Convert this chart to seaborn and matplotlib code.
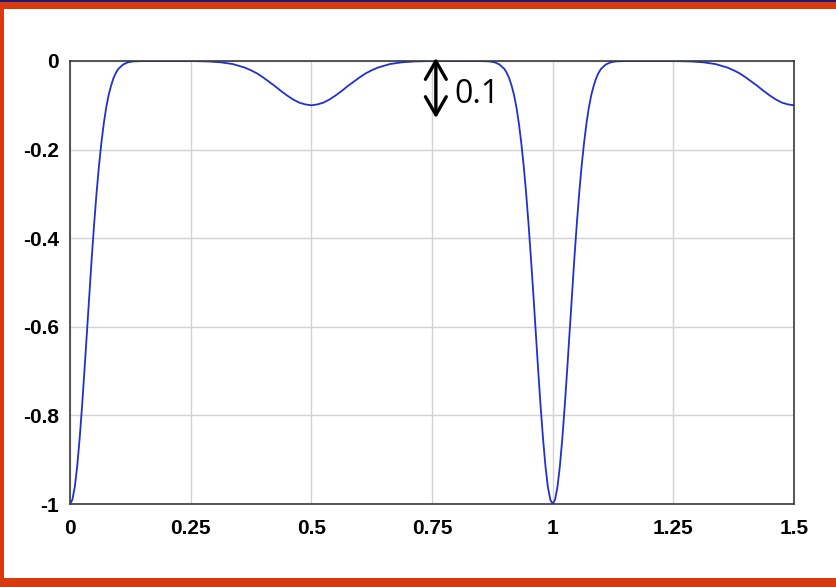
import matplotlib
matplotlib.use("Agg")
import matplotlib.pyplot as plt
from matplotlib.patches import Rectangle
import seaborn as sns
import pandas as pd

# Sampled response curve (x position, value)
x_vals = [
    0.000, 0.005, 0.010, 0.015, 0.020, 0.025, 0.030, 0.035, 0.040, 0.045,
    0.050, 0.055, 0.060, 0.065, 0.070, 0.075, 0.080, 0.085, 0.090, 0.095,
    0.100, 0.110, 0.120, 0.130, 0.150, 0.200, 0.250, 0.2875, 0.300, 0.3125,
    0.325, 0.3375, 0.350, 0.3625, 0.375, 0.3875, 0.400, 0.4125, 0.425, 0.4375,
    0.450, 0.4625, 0.475, 0.4875, 0.500, 0.5125, 0.525, 0.5375, 0.550, 0.5625,
    0.575, 0.5875, 0.600, 0.6125, 0.625, 0.6375, 0.650, 0.6625, 0.675, 0.6875,
    0.700, 0.7125, 0.750, 0.800, 0.850, 0.870,
    0.880, 0.890, 0.900, 0.905, 0.910, 0.915, 0.920, 0.925, 0.930, 0.935,
    0.940, 0.945, 0.950, 0.955, 0.960, 0.965, 0.970, 0.975, 0.980, 0.985,
    0.990, 0.995, 1.000, 1.005, 1.010, 1.015, 1.020, 1.025, 1.030, 1.035,
    1.040, 1.045, 1.050, 1.055, 1.060, 1.065, 1.070, 1.075, 1.080, 1.085,
    1.090, 1.095, 1.100, 1.110, 1.120, 1.130, 1.150, 1.200, 1.250, 1.2875,
    1.300, 1.3125, 1.325, 1.3375, 1.350, 1.3625, 1.375, 1.3875, 1.400, 1.4125,
    1.425, 1.4375, 1.450, 1.4625, 1.475, 1.4875, 1.500,
]
y_vals = [
    -1.000, -0.990, -0.961, -0.914, -0.852, -0.779, -0.698, -0.613, -0.527, -0.445,
    -0.368, -0.298, -0.237, -0.185, -0.141, -0.105, -0.077, -0.056, -0.039, -0.027,
    -0.018, -0.008, -0.003, -0.001, 0.000, 0.000, 0.000, -0.001, -0.002, -0.003,
    -0.005, -0.007, -0.011, -0.015, -0.021, -0.028, -0.037, -0.047, -0.057, -0.068,
    -0.078, -0.087, -0.094, -0.098, -0.100, -0.098, -0.094, -0.087, -0.078, -0.068,
    -0.057, -0.047, -0.037, -0.028, -0.021, -0.015, -0.011, -0.007, -0.005, -0.003,
    -0.002, -0.001, 0.000, 0.000, 0.000, -0.001,
    -0.003, -0.008, -0.018, -0.027, -0.039, -0.056, -0.077, -0.105, -0.141, -0.185,
    -0.237, -0.298, -0.368, -0.445, -0.527, -0.613, -0.698, -0.779, -0.852, -0.914,
    -0.961, -0.990, -1.000, -0.990, -0.961, -0.914, -0.852, -0.779, -0.698, -0.613,
    -0.527, -0.445, -0.368, -0.298, -0.237, -0.185, -0.141, -0.105, -0.077, -0.056,
    -0.039, -0.027, -0.018, -0.008, -0.003, -0.001, 0.000, 0.000, 0.000, -0.001,
    -0.002, -0.003, -0.005, -0.007, -0.011, -0.015, -0.021, -0.028, -0.037, -0.047,
    -0.057, -0.068, -0.078, -0.087, -0.094, -0.098, -0.100,
]

x_ticks = [0, 0.25, 0.5, 0.75, 1, 1.25, 1.5]
x_tick_labels = ["0", "0.25", "0.5", "0.75", "1", "1.25", "1.5"]
y_ticks = [0, -0.2, -0.4, -0.6, -0.8, -1]
y_tick_labels = ["0", "-0.2", "-0.4", "-0.6", "-0.8", "-1"]

# Depth marker
marker_x = 0.758
marker_top = 0.007
marker_bottom = -0.129
marker_label = "0.1"

sns.set_style("whitegrid")
plt.rcParams["font.family"] = ["Liberation Sans", "DejaVu Sans"]

W, H = 836, 587
fig = plt.figure(figsize=(W / 100, H / 100), dpi=100, facecolor="white")
ax = fig.add_axes([70 / W, 1 - 504 / H, (794 - 70) / W, (504 - 61) / H])

df = pd.DataFrame({"x": x_vals, "y": y_vals})
sns.lineplot(data=df, x="x", y="y", ax=ax, color="#2030d0", linewidth=1.3,
             estimator=None, sort=False)

ax.set_xlim(0, 1.5)
ax.set_ylim(-1, 0)
ax.set_xticks(x_ticks)
ax.set_xticklabels(x_tick_labels, fontsize=15, fontweight="bold")
ax.set_yticks(y_ticks)
ax.set_yticklabels(y_tick_labels, fontsize=15, fontweight="bold")
ax.set_xlabel("")
ax.set_ylabel("")
ax.tick_params(axis="x", length=0, pad=11, colors="black")
ax.tick_params(axis="y", length=0, pad=8, colors="black")
ax.grid(True, color="#d2d2d2", linewidth=1.0)
for sp in ax.spines.values():
    sp.set_visible(True)
    sp.set_color("#3a3a3a")
    sp.set_linewidth(1.2)

# Double-headed depth marker with its label
ax.annotate("", xy=(marker_x, marker_top), xytext=(marker_x, marker_bottom),
            xycoords="data", textcoords="data", annotation_clip=False,
            arrowprops=dict(arrowstyle="<->,head_length=1.3,head_width=0.75",
                            color="black", lw=2.4, shrinkA=0, shrinkB=0,
                            mutation_scale=10))
ax.text(marker_x + 0.039, -0.075, marker_label, fontsize=23,
        family=["Open Sans", "DejaVu Sans"], color="black",
        ha="left", va="center", clip_on=False)

# Frame around the figure
red = "#d8390f"
fig.patches.append(Rectangle((0, 1 - 9 / H), 1, 9 / H, transform=fig.transFigure,
                             facecolor=red, edgecolor="none", zorder=10))
fig.patches.append(Rectangle((0, 1 - 1.5 / H), 1, 1.5 / H, transform=fig.transFigure,
                             facecolor="#1c1c78", edgecolor="none", zorder=11))
fig.patches.append(Rectangle((0, 0), 3.5 / W, 1, transform=fig.transFigure,
                             facecolor=red, edgecolor="none", zorder=10))
fig.patches.append(Rectangle((0, 0), 1, 9 / H, transform=fig.transFigure,
                             facecolor=red, edgecolor="none", zorder=10))

fig.savefig("out.png", dpi=100, facecolor="white")
